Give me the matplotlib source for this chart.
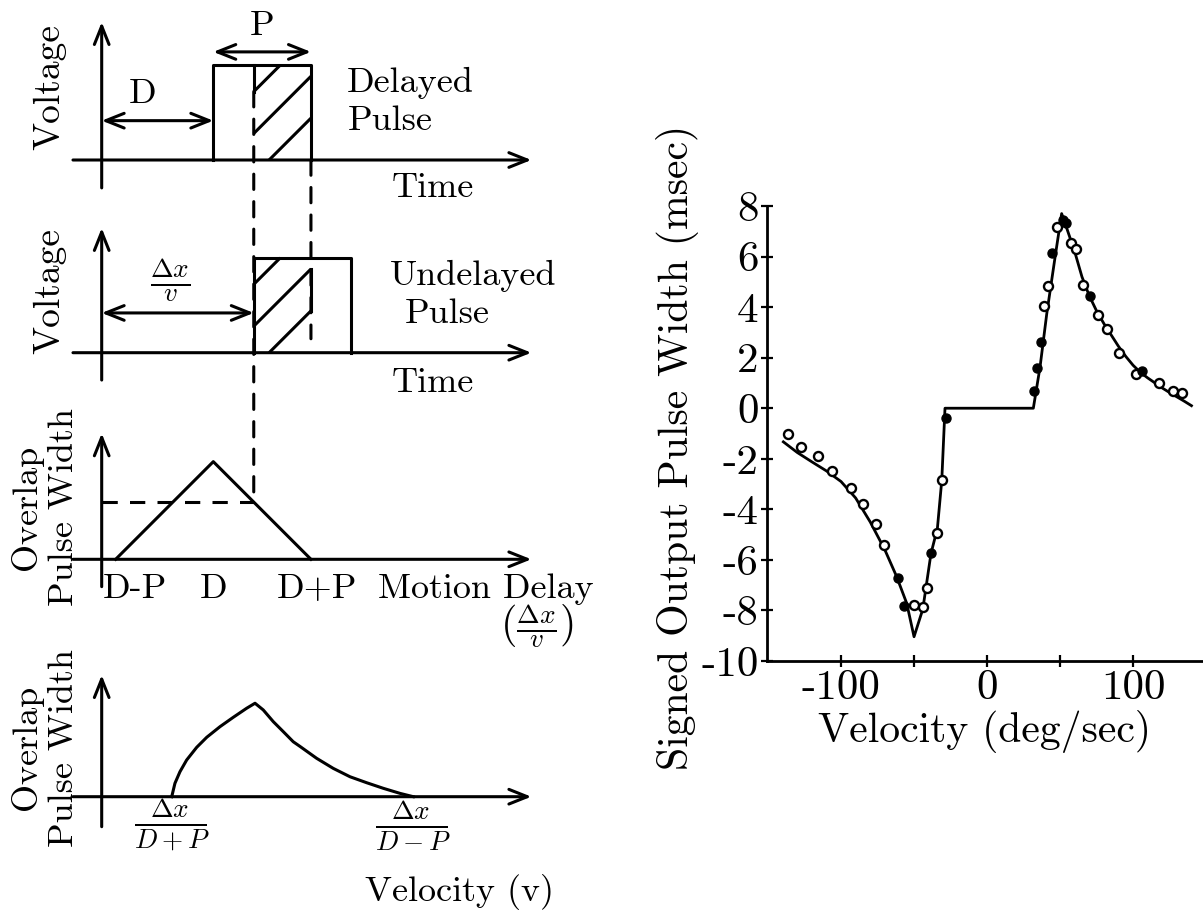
import numpy as np
import matplotlib
matplotlib.use("Agg")
import matplotlib.pyplot as plt
from matplotlib.patches import ConnectionPatch

plt.rcParams['font.family'] = 'cmr10'
plt.rcParams['mathtext.fontset'] = 'cm'
plt.rcParams['axes.unicode_minus'] = False

# ---- right plot: measured output pulse width vs velocity
vel_open = [-136, -127.4, -116, -106.5, -93.2, -85.2, -76, -70.3, -50, -44, -40.9,
            -34, -31, 39, 42, 48.2, 57.5, 61, 65.5, 76.3, 82, 90.6, 102, 118, 127.6, 133.8]
width_open = [-1.03, -1.53, -1.88, -2.48, -3.17, -3.79, -4.58, -5.41, -7.79, -7.88, -7.1,
              -4.93, -2.83, 4.04, 4.85, 7.17, 6.54, 6.28, 4.86, 3.67, 3.15, 2.2, 1.37, 1.01, 0.68, 0.62]
vel_filled = [-60.7, -56.6, -38.4, -28.3, 32.2, 34.5, 36.7, 44.7, 52, 54.1, 70.5, 106.4]
width_filled = [-6.73, -7.81, -5.71, -0.37, 0.68, 1.6, 2.62, 6.14, 7.45, 7.32, 4.43, 1.47]

# model curve
vel_fit = [-139.5, -130, -120, -110, -100, -90, -80, -70, -62, -55, -50, -44, -38.4, -34, -31,
           -28.8, 31.7, 36.3, 40.9, 46.6, 51.1, 55, 60, 65, 70, 75, 80, 85, 90, 95, 100, 105,
           110, 115, 120, 125, 130, 135, 140]
width_fit = [-1.33, -1.75, -2.12, -2.48, -2.9, -3.55, -4.5, -5.6, -6.65, -7.72, -9.04, -7.95,
             -5.75, -4.75, -2.85, 0, 0, 1.63, 3.74, 5.98, 7.7, 7.05, 6.2, 5.2, 4.45, 3.85, 3.35,
             2.9, 2.45, 2.05, 1.7, 1.42, 1.2, 1.0, 0.8, 0.62, 0.45, 0.28, 0.1]

vel_ticks = [-100, -50, 0, 50, 100]
vel_ticklabels = ['-100', '', '0', '', '100']
width_ticks = [-10, -8, -6, -4, -2, 0, 2, 4, 6, 8]

# ---- schematic quantities (time units)
D = 8.0          # delay of the delayed pulse
P = 7.0          # pulse width
DELAY = 10.9     # motion delay dx/v
AMP = 6.8        # pulse height
HATCH_X0 = [6.0, 9.0, 12.0]

# overlap pulse width vs velocity sketch
vel_sketch = [5.02, 5.25, 5.61, 6.09, 6.81, 7.53, 8.48, 9.43, 10.39, 10.99, 11.58, 12.3,
              13.02, 13.73, 14.22, 15.41, 16.6, 17.8, 19.0, 20.19, 21.38, 22.34]
overlap_sketch = [0, 0.96, 1.79, 2.63, 3.54, 4.26, 5.02, 5.69, 6.34, 6.7, 6.22, 5.38,
                  4.66, 3.94, 3.6, 2.75, 2.03, 1.43, 1.0, 0.6, 0.24, 0]

FIG_W, FIG_H = 1203, 915
S = 13.95      # pixels per time unit in the sketches
X0 = 101.7     # pixel column of the sketch origin
LW = 2.2
FS = 26

fig = plt.figure(figsize=(FIG_W / 100, FIG_H / 100), dpi=100)


def panel(top, base, bottom):
    ax = fig.add_axes([0, (FIG_H - bottom) / FIG_H, 600 / FIG_W, (bottom - top) / FIG_H])
    ax.set_xlim(-X0 / S, (600 - X0) / S)
    ax.set_ylim(-(bottom - base) / S, (base - top) / S)
    ax.axis('off')
    return ax


def arrow(ax, start, end, style='->'):
    ax.annotate('', xy=end, xytext=start,
                arrowprops=dict(arrowstyle=style + ',head_length=0.55,head_width=0.22',
                                lw=LW, color='k', shrinkA=0, shrinkB=0, mutation_scale=24))


def axes_arrows(ax, ytop, ybot):
    arrow(ax, (-2.06, 0), (30.8, 0))
    arrow(ax, (0, ybot), (0, ytop))


def hatch(ax):
    for x0 in HATCH_X0:
        xs = np.array([max(DELAY, x0), min(D + P, x0 + AMP)])
        ax.plot(xs, xs - x0, color='k', lw=LW, solid_capstyle='butt')


def side_label(ax, y, text):
    ax.text(-4.06, y, text, fontsize=FS, rotation=90, ha='center', va='center',
            multialignment='center', linespacing=1.2)


dash = (0, (5, 4))

# panel 1: delayed pulse
ax1 = panel(0, 160, 210)
axes_arrows(ax1, 9.89, -2.0)
ax1.plot([D, D, D + P, D + P], [0, AMP, AMP, 0], color='k', lw=LW)
hatch(ax1)
ax1.plot([DELAY, DELAY], [AMP, DELAY - HATCH_X0[0]], color='k', lw=LW)
arrow(ax1, (D, AMP + 0.95), (D + P, AMP + 0.95), '<->')
arrow(ax1, (0, 2.82), (D, 2.82), '<->')
ax1.text(D + P / 2, 9.6, 'P', fontsize=FS, ha='center', va='center')
ax1.text(D / 2.7, 4.73, 'D', fontsize=FS, ha='center', va='center')
ax1.text(17.6, 4.87, 'Delayed', fontsize=FS, va='baseline')
ax1.text(17.66, 2.15, 'Pulse', fontsize=FS, va='baseline')
ax1.text(20.8, -2.65, 'Time', fontsize=FS, va='baseline')
ax1.text(-3.75, 5.2, 'Voltage', fontsize=27, rotation=90, ha='center', va='center')

# panel 2: undelayed pulse
ax2 = panel(210, 352.7, 410)
axes_arrows(ax2, 8.94, -1.96)
ax2.plot([DELAY, DELAY, DELAY + P, DELAY + P], [0, AMP, AMP, 0], color='k', lw=LW)
hatch(ax2)
ax2.plot([D + P, D + P], [D + P - HATCH_X0[1], D + P - HATCH_X0[2]], color='k', lw=LW)
arrow(ax2, (0, 2.85), (DELAY, 2.85), '<->')
ax2.text(4.9, 5.2, r'$\frac{\Delta x}{v}$', fontsize=28, ha='center', va='center')
ax2.text(20.67, 4.85, 'Undelayed', fontsize=FS, va='baseline')
ax2.text(21.74, 2.1, 'Pulse', fontsize=FS, va='baseline')
ax2.text(20.8, -2.83, 'Time', fontsize=FS, va='baseline')
ax2.text(-3.75, 4.4, 'Voltage', fontsize=27, rotation=90, ha='center', va='center')

# panel 3: overlap vs motion delay
ax3 = panel(410, 559.3, 650)
axes_arrows(ax3, 9.03, -1.96)
ax3.plot([D - P, D, D + P], [0, P, 0], color='k', lw=LW)
level = P - abs(DELAY - D)
ax3.plot([0, DELAY], [level, level], color='k', lw=LW, linestyle=dash)
ax3.text(0.11, -2.75, 'D-P', fontsize=FS, va='baseline')
ax3.text(D, -2.75, 'D', fontsize=FS, va='baseline', ha='center')
ax3.text(D + P + 0.4, -2.75, 'D+P', fontsize=FS, va='baseline', ha='center')
ax3.text(19.8, -2.75, 'Motion Delay', fontsize=FS, va='baseline')
ax3.text(31.2, -4.75, r'$\left(\frac{\Delta x}{v}\right)$', fontsize=28, ha='center', va='center')
side_label(ax3, 3.75, 'Overlap\nPulse Width')

# panel 4: overlap vs velocity
ax4 = panel(650, 796.7, 915)
axes_arrows(ax4, 8.72, -2.15)
ax4.plot(vel_sketch, overlap_sketch, color='k', lw=LW)
ax4.text(vel_sketch[0], -2.04, r'$\frac{\Delta x}{D+P}$', fontsize=28, ha='center', va='center')
ax4.text(vel_sketch[-1], -2.04, r'$\frac{\Delta x}{D-P}$', fontsize=28, ha='center', va='center')
ax4.text(18.9, -7.5, 'Velocity (v)', fontsize=FS, va='baseline')
side_label(ax4, 3.5, 'Overlap\nPulse Width')

# dashed guides across panels
for ax_a, pa, ax_b, pb in [(ax1, (DELAY, DELAY - HATCH_X0[0]), ax3, (DELAY, level)),
                           (ax1, (D + P, 0), ax2, (D + P, 1.0))]:
    con = ConnectionPatch(xyA=pa, coordsA=ax_a.transData, xyB=pb, coordsB=ax_b.transData,
                          color='k', lw=LW, linestyle=dash)
    fig.add_artist(con)

# ---- right plot
axr = fig.add_axes([767 / FIG_W, (FIG_H - 661) / FIG_H, 436 / FIG_W, 455 / FIG_H])
axr.plot(vel_fit, width_fit, color='k', lw=2, clip_on=False)
axr.plot(vel_open, width_open, 'o', mfc='white', mec='k', ms=6.5, mew=1.7, clip_on=False)
axr.plot(vel_filled, width_filled, 'o', mfc='k', mec='k', ms=6.5, clip_on=False)
axr.set_xlim(-150.7, 147.9)
axr.set_ylim(-10, 8)
axr.spines['top'].set_visible(False)
axr.spines['right'].set_visible(False)
for sp in ['left', 'bottom']:
    axr.spines[sp].set_linewidth(2)
axr.set_xticks(vel_ticks, labels=vel_ticklabels)
axr.set_yticks(width_ticks)
axr.tick_params(direction='inout', length=8, width=1.6, labelsize=31, pad=2)
axr.set_xlabel('Velocity (deg/sec)', fontsize=30, labelpad=2)
axr.set_ylabel('Signed Output Pulse Width (msec)', fontsize=30)
axr.yaxis.set_label_coords(-0.155, 0.47)

fig.savefig('out.png', dpi=100)
